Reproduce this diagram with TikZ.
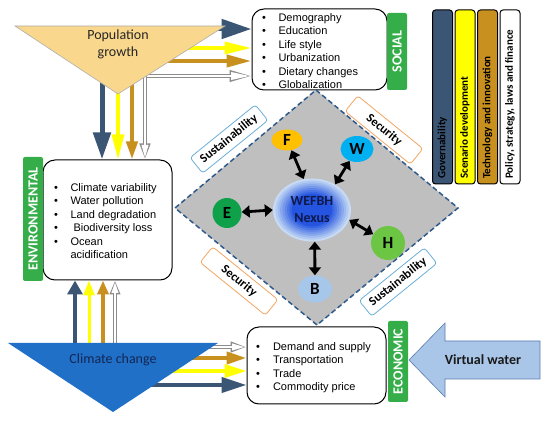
\documentclass[tikz,border=0pt]{standalone}
\usepackage{fontspec}
\setmainfont{Carlito}
\newfontfamily\arialf{Liberation Sans}
\usetikzlibrary{arrows.meta,positioning,shapes.geometric}

\definecolor{navyc}{HTML}{3B5575}
\definecolor{yelc}{HTML}{FFFF00}
\definecolor{brnc}{HTML}{C8901E}
\definecolor{wgray}{HTML}{8C8C8C}
\definecolor{grnc}{HTML}{35AE4A}
\definecolor{popc}{HTML}{F9D78C}
\definecolor{climc}{HTML}{2070C8}
\definecolor{climt}{rgb}{0.08,0.15,0.32}
\definecolor{nexfg}{rgb}{0.06,0.10,0.30}
\definecolor{diac}{HTML}{BFBFBF}
\definecolor{dashc}{HTML}{2F5A8C}
\definecolor{sustc}{HTML}{6AAED8}
\definecolor{secc}{HTML}{F2A562}
\definecolor{nexin}{rgb}{0.14,0.33,0.88}
\definecolor{nexout}{rgb}{0.78,0.86,0.96}
\definecolor{fc}{HTML}{FFC000}
\definecolor{wc}{HTML}{00B0F0}
\definecolor{ec}{HTML}{0FA04A}
\definecolor{hc}{HTML}{6CC644}
\definecolor{bc}{HTML}{A7C7EA}
\definecolor{vwc}{HTML}{A9C5E8}
\definecolor{vwd}{HTML}{5A7DB0}

% white arrow = gray outline + white core
\newcommand\whitearrow[4]{%
  \pgfmathsetmacro\wal{#3-3}\pgfmathsetmacro\waw{#4-3.6}%
  \draw[draw=wgray,line width=4pt,-{Triangle[length=#3pt,width=#4pt]}] #1 -- #2;
  \draw[draw=white,line width=2.4pt,shorten >=1.5pt,-{Triangle[length=\wal pt,width=\waw pt]}] #1 -- #2;}

\begin{document}
\begin{tikzpicture}[x=1pt,y=-1pt,every node/.style={inner sep=0pt},
    lst/.style={anchor=north west,font=\arialf\fontsize{11}{13.5}\selectfont},
    box/.style={draw,line width=1pt,rounded corners=12pt,fill=white},
    tag/.style={fill=grnc,rounded corners=2pt,rotate=90,minimum height=20pt,
      text=white,font=\bfseries\fontsize{14}{14}\selectfont},
    lbl/.style={fill=white,line width=0.8pt,rounded corners=3pt,minimum width=84pt,
      minimum height=20pt,font=\bfseries\fontsize{12.5}{12.5}\selectfont},
    legbar/.style={draw,line width=1pt,rounded corners=3pt,minimum width=20pt,minimum height=174pt},
    ball/.style={ellipse,font=\bfseries\fontsize{17}{17}\selectfont},
    arr/.style n args={4}{draw=#1,line width=#2,-{Triangle[length=#3,width=#4]}},
    dbl/.style={line width=2.8pt,{Triangle[length=8pt,width=12pt]}-{Triangle[length=8pt,width=12pt]}}]
  \useasboundingbox (0,0) rectangle (550,422);

  % boxes
  \node[box,minimum width=135pt,minimum height=81pt] (soc) at (319.5,49.5) {};
  \node[box,minimum width=129pt,minimum height=120pt] (env) at (107.5,220) {};
  \node[box,minimum width=139pt,minimum height=77pt] (eco) at (316.5,365.5) {};
  \node[lst] (soclist) at (262,11.5) {\begin{tabular}{@{}l@{\hspace{12.5pt}}l@{}}
    \textbullet & Demography\\ \textbullet & Education\\ \textbullet & Life style\\
    \textbullet & Urbanization\\ \textbullet & Dietary changes\\ \textbullet & Globalization
    \end{tabular}};
  \node[lst] (envlist) at (54,181.5) {\begin{tabular}{@{}l@{\hspace{12.5pt}}l@{}}
    \textbullet & Climate variability\\ \textbullet & Water pollution\\
    \textbullet & Land degradation\\ \textbullet & \ Biodiversity loss\\
    \textbullet & Ocean\\ & acidification
    \end{tabular}};
  \node[lst] (ecolist) at (256,340.5) {\begin{tabular}{@{}l@{\hspace{13pt}}l@{}}
    \textbullet & Demand and supply\\ \textbullet & Transportation\\
    \textbullet & Trade\\ \textbullet & Commodity price
    \end{tabular}};
  \node[tag,minimum width=77pt] (soctag) at (397,51.5) {SOCIAL};
  \node[tag,minimum width=124pt] (envtag) at (33,219) {ENVIRONMENTAL};
  \node[tag,minimum width=81pt] (ecotag) at (398,361.5) {ECONOMIC};

  % arrows from population growth
  \foreach \y/\x/\c/\lw/\hl/\hw in {29/214/navyc/5/30/19, 48/184/yelc/3.5/27/12, 61/164/brnc/4/25/12} {
    \coordinate (p\y) at (\x,\y);
    \draw[arr={\c}{\lw pt}{\hl pt}{\hw pt}] (p\y) -- (p\y -| soc.west);
  }
  \coordinate (p76) at (140,76);
  \whitearrow{(p76)}{(p76 -| soc.west)}{22}{11}
  \foreach \x/\y/\c/\lw/\hl/\hw in {102/76/navyc/5/27/17, 118/86/yelc/3.5/25/12, 132/78/brnc/4/18/11} {
    \coordinate (q\x) at (\x,\y);
    \draw[arr={\c}{\lw pt}{\hl pt}{\hw pt}] (q\x) -- (q\x |- env.north);
  }
  \coordinate (q145) at (145,72);
  \whitearrow{(q145)}{(q145 |- env.north)}{16}{10}
  \path[draw=wgray!70,fill=popc,line width=0.6pt] (15,26) -- (225,26) -- (118,94) -- cycle;
  \node[font=\fontsize{14}{17}\selectfont,align=center,text=black!85] (pop) at (118,44) {Population\\growth};

  % arrows from climate change
  \foreach \x/\c/\lw/\hl/\hw in {75/navyc/4/14/15, 89/yelc/3/15/11, 103/brnc/3.5/14/11} {
    \coordinate (c\x) at (\x,350);
    \draw[arr={\c}{\lw pt}{\hl pt}{\hw pt}] (c\x) -- (c\x |- env.south);
  }
  \coordinate (c115) at (115,350);
  \whitearrow{(c115)}{(c115 |- env.south)}{14}{10}
  \foreach \y/\x/\c/\lw/\hl/\hw in {358/190/brnc/4/20/12, 371/168/yelc/3.5/22/13, 385/148/navyc/4/25/15} {
    \coordinate (r\y) at (\x,\y);
    \draw[arr={\c}{\lw pt}{\hl pt}{\hw pt}] (r\y) -- (r\y -| eco.west);
  }
  \coordinate (r347) at (205,347);
  \whitearrow{(r347)}{(r347 -| eco.west)}{16}{10}
  \path[fill=climc] (8,343) -- (218,343) -- (113,412) -- cycle;
  \node[font=\fontsize{14}{14}\selectfont,text=climt] (clim) at (113,360) {Climate change};

  % virtual water
  \path[draw=vwd,fill=vwc,line width=0.6pt] (409,360) -- (445,323) -- (445,341) -- (540,341)
    -- (540,379) -- (445,379) -- (445,397) -- cycle;
  \node[font=\bfseries\fontsize{14}{14}\selectfont,text=black!90] (vw) at (483,360) {Virtual water};

  % nexus diamond
  \draw[fill=diac,draw=dashc,line width=1.5pt,dash pattern=on 5pt off 3pt]
    (316,90) -- (458,208) -- (317,325) -- (175,208) -- cycle;
  \foreach \x/\y/\a/\c/\t [count=\i] in {229/139/39/sustc/Sustainability, 384/130/-39/secc/Security,
                                         239/281/-39/secc/Security, 398/282/39/sustc/Sustainability}
    \node[lbl,draw=\c,rotate=\a] (lb\i) at (\x,\y) {\t};
  % soft blue glow of the nexus
  \foreach \k in {0,...,8} {
    \pgfmathtruncatemacro\pc{\k*12.5}
    \fill[nexin!\pc!nexout] (312,210) ellipse [x radius={39*(1-\k*0.06)},y radius={31.5*(1-\k*0.06)}];
  }
  \node[ellipse,minimum width=78pt,minimum height=63pt] (nex) at (312,210) {};
  \foreach \n/\x/\y/\w/\h/\c in {F/287/140/31/21/fc, W/357/149/33/26/wc, E/227/213/29/30/ec,
                                 H/388/243/34/34/hc, B/315/289/34/27/bc}
    \node[ball,fill=\c,minimum width=\w pt,minimum height=\h pt] (\n) at (\x,\y) {\n};
  \foreach \a/\n in {105/F, 48/W, 180/E, -15/H, -85/B}
    \draw[dbl] (nex.\a) -- (\n);
  \node[align=center,text=nexfg,font=\bfseries\fontsize{14}{17}\selectfont] (nextxt) at (nex) {WEFBH\\Nexus};

  % legend bars
  \foreach \x/\c/\t [count=\i] in {442.5/navyc/Governability, 465/yelc/Scenario development,
                                   487.5/brnc/Technology and innovation,
                                   510/white/{Policy, strategy, laws and finance}} {
    \node[legbar,fill=\c] (bar\i) at (\x,97) {};
    \node[rotate=90,anchor=west,font=\bfseries\fontsize{11}{11}\selectfont] (leg\i) at (\x,179) {\t};
  }
\end{tikzpicture}
\end{document}
